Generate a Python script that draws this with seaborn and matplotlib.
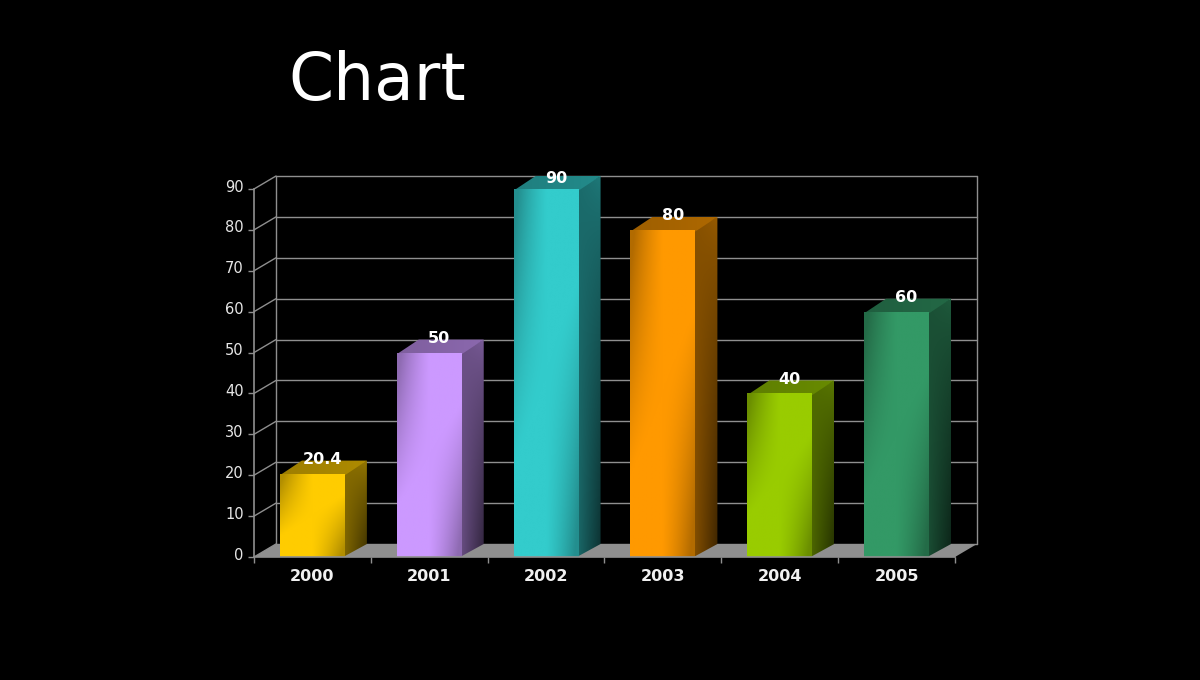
import numpy as np
import pandas as pd
import matplotlib
matplotlib.use('Agg')
import matplotlib.pyplot as plt
from matplotlib.colors import to_rgb
from matplotlib.patches import Polygon
from matplotlib.transforms import ScaledTranslation
import seaborn as sns

years = ['2000', '2001', '2002', '2003', '2004', '2005']
values = [20.4, 50, 90, 80, 40, 60]
colors = ['#FFCC00', '#CC99FF', '#33CCCC', '#FF9900', '#99CC00', '#339966']
y_ticks = [0, 10, 20, 30, 40, 50, 60, 70, 80, 90]
title_text = 'Chart'

W, H = 1200, 680
grid_col = '#8f8f8f'

sns.set_theme(style='dark', rc={'figure.facecolor': 'black', 'axes.facecolor': 'black'})
plt.rcParams['font.family'] = ['DejaVu Sans']

fig = plt.figure(figsize=(W / 100, H / 100), dpi=100)
# front plane of the 3D box, in pixels: x 254-955, y 189-557
ax = fig.add_axes([254 / W, (H - 557) / H, 701 / W, 368 / H])

df = pd.DataFrame({'year': years, 'value': values})
sns.barplot(data=df, x='year', y='value', hue='year', palette=colors, legend=False,
            width=0.556, saturation=1, linewidth=0, ax=ax, zorder=3)
ax.set_xlim(-0.5, 5.5)
ax.set_ylim(0, 90)

# depth of the fake 3D, in data units (22px right, 13px up)
ddx = 22 / (701 / 6)
ddy = 13 / (368 / 90)


def shaded(poly, col, grad, z=4):
    # gradient image clipped to a polygon
    xs = [p[0] for p in poly]
    ys = [p[1] for p in poly]
    rgb = np.array(to_rgb(col))
    img = np.clip(grad[..., None] * rgb, 0, 1)
    im = ax.imshow(img, extent=[min(xs), max(xs), min(ys), max(ys)], origin='lower',
                   aspect='auto', interpolation='bilinear', zorder=z)
    im.set_clip_box(fig.bbox)
    im.set_clip_path(Polygon(poly, closed=True, transform=ax.transData))


# v goes up here: darker top left and bottom right, full colour between
u, v = np.meshgrid(np.linspace(0, 1, 80), np.linspace(0, 1, 120))
corner = (1 - u) ** 2 * v + u ** 2 * (1 - v)
front_grad = 1.0 - 0.30 * np.clip(corner * 1.6 - 0.4, 0, 1)
side_grad = 0.60 - 0.36 * u * (1 - v) ** 0.7 - 0.08 * (1 - u)
top_grad = 0.62 + 0.06 * u

# back wall, left wall and floor
for t in y_ticks:
    ax.plot([-0.5 + ddx, 5.5 + ddx], [t + ddy, t + ddy], color=grid_col, lw=1.0, clip_on=False, zorder=1)
    ax.plot([-0.5, -0.5 + ddx], [t, t + ddy], color=grid_col, lw=1.0, clip_on=False, zorder=1)
ax.plot([-0.5 + ddx, -0.5 + ddx], [ddy, 90 + ddy], color=grid_col, lw=1.0, clip_on=False, zorder=1)
ax.plot([5.5 + ddx, 5.5 + ddx], [ddy, 90 + ddy], color=grid_col, lw=1.0, clip_on=False, zorder=1)
ax.add_patch(Polygon([(-0.5, 0), (-0.5 + ddx, ddy), (5.5 + ddx, ddy), (5.5, 0)], closed=True,
                     facecolor='#8f8f8f', edgecolor='none', clip_on=False, zorder=2))

for bar, col, val in zip(ax.patches, colors, values):
    x0 = bar.get_x()
    x1 = x0 + bar.get_width()
    h = bar.get_height()
    bar.set_visible(False)
    # side and top go under the front and overlap it a bit, no seams
    shaded([(x1 - 0.015, 0), (x1 + ddx, ddy), (x1 + ddx, h + ddy), (x1 - 0.015, h)], col, side_grad, z=4)
    shaded([(x0, h - 0.4), (x1, h - 0.4), (x1 + ddx, h + ddy), (x0 + ddx, h + ddy)], col, top_grad, z=4)
    shaded([(x0, 0), (x1, 0), (x1, h), (x0, h)], col, front_grad, z=5)
    ax.text((x0 + x1) / 2 + ddx / 2 - 0.01, min(h + 3.5, 92.5), f'{val:g}', color='white', fontsize=11.5,
            fontweight='bold', ha='center', va='center', zorder=6)

ax.set_xlim(-0.5, 5.5)
ax.set_ylim(0, 90)
sns.despine(ax=ax, top=True, right=True)
for s in ['left', 'bottom']:
    ax.spines[s].set_color(grid_col)
    ax.spines[s].set_linewidth(1.2)
    ax.spines[s].set_zorder(7)

ax.set_xlabel('')
ax.set_ylabel('')
ax.grid(False)
ax.set_yticks(y_ticks)
ax.set_yticklabels([str(t) for t in y_ticks], color='#e6e6e6', fontsize=10.5)
ax.set_xticks(range(len(years)))
ax.set_xticklabels(years, color='#f0f0f0', fontsize=11.5, fontweight='bold')
ax.set_xticks(np.arange(-0.5, 6, 1), minor=True)
ax.tick_params(axis='x', which='major', length=0, pad=8.3)
ax.tick_params(axis='x', which='minor', length=4.5, width=1, color=grid_col, bottom=True)
ax.tick_params(axis='y', which='major', length=4.5, width=1, color=grid_col, pad=3, left=True)

# y labels sit a little above their ticks in the original
up = ScaledTranslation(0, 2.5 / 72, fig.dpi_scale_trans)
for lab in ax.get_yticklabels():
    lab.set_transform(lab.get_transform() + up)

fig.text(288 / W, 1 - 100 / H, title_text, color='white', fontsize=46.5, ha='left', va='baseline')

fig.savefig('out.png', dpi=100, facecolor='black')
